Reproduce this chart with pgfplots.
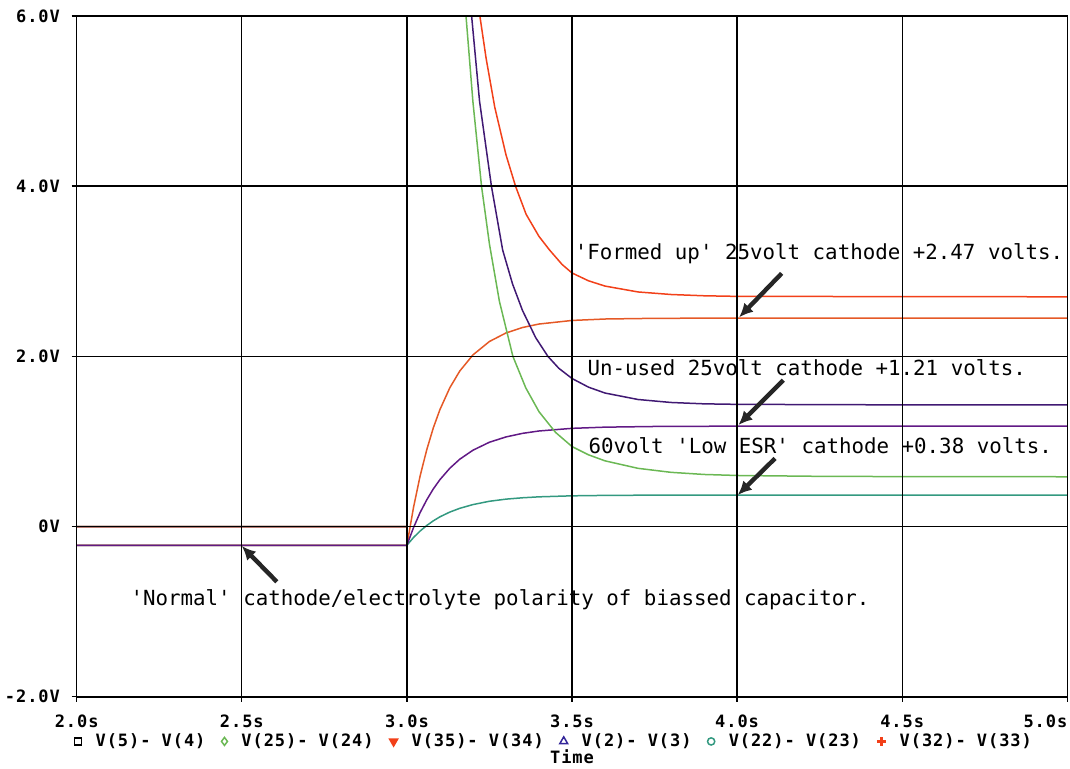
\documentclass[border=0pt]{standalone}
\usepackage{pgfplots}
\pgfplotsset{compat=1.18}
\usepackage{fontspec}
\setmainfont{DejaVu Sans Mono}
\newfontfamily\tickfont[LetterSpace=5.5]{DejaVu Sans Mono}
\newfontfamily\annfont{DejaVu Sans Mono}
\usetikzlibrary{arrows.meta}
\newcommand{\q}{\textquotesingle}
\definecolor{cgreen}{rgb}{0.42,0.72,0.33}
\definecolor{cred}{rgb}{0.95,0.25,0.10}
\definecolor{corange}{rgb}{0.90,0.35,0.15}
\definecolor{cdpurple}{rgb}{0.25,0.10,0.45}
\definecolor{cpurple}{rgb}{0.38,0.10,0.52}
\definecolor{cteal}{rgb}{0.20,0.60,0.50}
\definecolor{cblue}{rgb}{0.20,0.15,0.60}
\pgfplotsset{legmark/.style={legend image code/.code={\draw[##1] plot coordinates {(2pt,0pt)};}}}
\begin{document}
\begin{tikzpicture}
\begin{axis}[
  scale only axis,
  width=495.3pt, height=340.35pt,
  xmin=2, xmax=5, ymin=-2, ymax=6,
  xtick={2,2.5,3,3.5,4,4.5,5},
  xticklabels={2.0s,2.5s,3.0s,3.5s,4.0s,4.5s,\llap{5.0s}},
  ytick={-2,0,2,4,6},
  yticklabels={-2.0V,0V,2.0V,4.0V,6.0V},
  tick pos=left,
  tick align=outside,
  major tick length=2.5pt,
  tick style={black, line width=0.7pt},
  axis line style={black, line width=0.8pt},
  grid=major,
  major grid style={black, line width=0.7pt},
  axis on top,
  ticklabel style={font=\tickfont\bfseries\fontsize{8.5}{10}\selectfont},
  xticklabel style={anchor=base, yshift=-13.1pt},
  yticklabel style={anchor=east, xshift=-2.4pt},
  xlabel={Time},
  xlabel style={font=\tickfont\bfseries\fontsize{8.5}{10}\selectfont, at={(axis description cs:0.5,-0.0885)}, anchor=center},
  legend columns=6,
  legend cell align=left,
  legend style={at={(0.483,-0.0657)}, anchor=center, draw=none, fill=none,
    font=\tickfont\bfseries\fontsize{8.5}{10}\selectfont,
    /tikz/every odd column/.append style={column sep=5pt},
    /tikz/every even column/.append style={column sep=6pt}},
  every axis plot/.append style={line width=0.75pt},
]
% V(5)-V(4) reference at 0 V
\addplot[black, forget plot] coordinates {(2,0) (5,0)};
% rising traces (start from -0.22 V)
\addplot[cteal, forget plot] coordinates {(2,-0.22) (3,-0.22) (3.02,-0.129) (3.04,-0.053) (3.06,0.012) (3.08,0.067) (3.10,0.114) (3.13,0.170) (3.16,0.214) (3.20,0.258) (3.25,0.297) (3.30,0.322) (3.35,0.338) (3.40,0.349) (3.50,0.361) (3.60,0.366) (3.75,0.369) (4.0,0.37) (5.0,0.37)};
\addplot[corange, forget plot] coordinates {(2,-0.22) (3,-0.22) (3.02,0.224) (3.04,0.594) (3.06,0.901) (3.08,1.160) (3.10,1.374) (3.13,1.631) (3.16,1.827) (3.20,2.017) (3.25,2.175) (3.30,2.275) (3.35,2.339) (3.40,2.380) (3.50,2.422) (3.60,2.439) (3.75,2.447) (4.0,2.45) (5.0,2.45)};
\addplot[cpurple, forget plot] coordinates {(2,-0.22) (3,-0.22) (3.02,-0.013) (3.04,0.164) (3.06,0.313) (3.08,0.442) (3.10,0.551) (3.13,0.685) (3.16,0.791) (3.20,0.897) (3.25,0.991) (3.30,1.053) (3.35,1.095) (3.40,1.123) (3.50,1.154) (3.60,1.168) (3.75,1.176) (4.0,1.18) (5.0,1.18)};
% decaying traces
\addplot[cgreen, forget plot] coordinates {(2,0) (3,0) (3,12) (3.15,7.82) (3.179,6.0) (3.20,4.99) (3.226,4.0) (3.25,3.32) (3.28,2.65) (3.321,2.0) (3.36,1.63) (3.40,1.35) (3.45,1.107) (3.50,0.94) (3.55,0.843) (3.60,0.772) (3.70,0.684) (3.80,0.637) (3.90,0.612) (4.00,0.600) (4.25,0.59) (4.5,0.587) (5.0,0.585)};
\addplot[cdpurple, forget plot] coordinates {(2,0) (3,0) (3,12) (3.17,7.3) (3.196,6.0) (3.22,5.0) (3.256,4.0) (3.29,3.25) (3.32,2.85) (3.35,2.54) (3.39,2.22) (3.427,2.0) (3.46,1.86) (3.5,1.74) (3.55,1.638) (3.6,1.569) (3.7,1.493) (3.8,1.458) (3.9,1.442) (4.0,1.436) (4.5,1.43) (5.0,1.43)};
\addplot[cred, forget plot] coordinates {(2,0) (3,0) (3,12) (3.18,7.41) (3.221,6.0) (3.24,5.50) (3.266,4.93) (3.30,4.37) (3.329,4.0) (3.361,3.67) (3.40,3.41) (3.432,3.25) (3.47,3.08) (3.5,2.98) (3.55,2.888) (3.6,2.826) (3.7,2.757) (3.8,2.727) (3.9,2.712) (4.0,2.705) (5.0,2.70)};
% legend (PSpice-style symbols)
\addlegendimage{only marks, mark=square, black, mark size=1.8pt, legmark}
\addlegendentry{V(5)- V(4)}
\addlegendimage{only marks, mark=diamond, cgreen, mark size=2pt, legmark}
\addlegendentry{V(25)- V(24)}
\addlegendimage{only marks, mark=triangle*, cred, mark size=2.3pt, mark options={rotate=180}, legmark}
\addlegendentry{V(35)- V(34)}
\addlegendimage{only marks, mark=triangle, cblue, mark size=2.3pt, legmark}
\addlegendentry{V(2)- V(3)}
\addlegendimage{only marks, mark=o, cteal, mark size=1.8pt, legmark}
\addlegendentry{V(22)- V(23)}
\addlegendimage{only marks, mark=+, draw=cred, mark size=2.2pt, mark options={line width=1.2pt, draw=cred}, legmark}
\addlegendentry{V(32)- V(33)}
% annotations
\node[font=\annfont\fontsize{10.4}{12}\selectfont, anchor=base] at (axis cs:4.248,3.141) {\q Formed up\q{} 25volt cathode +2.47 volts.};
\node[font=\annfont\fontsize{10.4}{12}\selectfont, anchor=base] at (axis cs:4.211,1.771) {Un-used 25volt cathode +1.21 volts.};
\node[font=\annfont\fontsize{10.4}{12}\selectfont, anchor=base] at (axis cs:4.252,0.858) {60volt \q Low ESR\q{} cathode +0.38 volts.};
\node[font=\annfont\fontsize{10.4}{12}\selectfont, anchor=base] at (axis cs:3.282,-0.932) {\q Normal\q{} cathode/electrolyte polarity of biassed capacitor.};
\draw[line width=2.2pt, black!85, -{Latex[length=7pt,width=6.5pt]}] (axis cs:4.135,2.975) -- (axis cs:4.006,2.458);
\draw[line width=2.2pt, black!85, -{Latex[length=7pt,width=6.5pt]}] (axis cs:4.140,1.721) -- (axis cs:4.004,1.193);
\draw[line width=2.2pt, black!85, -{Latex[length=7pt,width=6.5pt]}] (axis cs:4.115,0.801) -- (axis cs:4.002,0.370);
\draw[line width=2.2pt, black!85, -{Latex[length=7pt,width=6.5pt]}] (axis cs:2.606,-0.649) -- (axis cs:2.500,-0.229);
\end{axis}
\pgfresetboundingbox
\path (-38.35pt,-35.65pt) rectangle (496.65pt,348.35pt);
\end{tikzpicture}
\end{document}
